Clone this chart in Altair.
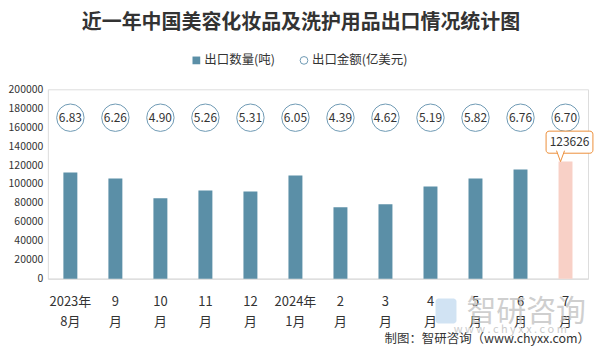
import altair as alt
import pandas as pd

months = ["2023年|8月", "9|月", "10|月", "11|月", "12|月", "2024年|1月",
          "2|月", "3|月", "4|月", "5|月", "6|月", "7|月"]
quantity = [112000, 105800, 84800, 93200, 92100, 108900,
            75400, 78500, 97400, 105800, 115200, 123626]
amount = [6.83, 6.26, 4.90, 5.26, 5.31, 6.05, 4.39, 4.62, 5.19, 5.82, 6.76, 6.70]
highlight = [False] * 11 + [True]

title_text = "近一年中国美容化妆品及洗护用品出口情况统计图"
legend_labels = ["出口数量(吨)", "出口金额(亿美元)"]
footer_text = "制图：智研咨询（www.chyxx.com）"
wm_name = "智研咨询"
wm_url = "w w w . c h y x x . c o m"
y_ticks = list(range(0, 200001, 20000))

df = pd.DataFrame({"month": months, "qty": quantity, "amt": amount, "hl": highlight})

W, H = 542, 190
FONT = "Noto Sans CJK SC"
BLUE = "#5B8FA7"
PINK = "#F8D0C6"
ORANGE = "#EC8F3A"
CIRC = "#6E9AB4"
TXT = "#333333"

xscale = alt.Scale(domain=months, paddingInner=0, paddingOuter=0)
x_axis = alt.X("month:N", sort=months, scale=xscale, title=None,
               axis=alt.Axis(labelAngle=0, ticks=False, domainColor="#D9D9D9",
                             labelExpr="split(datum.label, '|')",
                             labelFontSize=13, labelColor=TXT, labelFont=FONT,
                             labelPadding=17, labelLineHeight=20, labelBaseline="top"))
yscale = alt.Scale(domain=[0, 200000])
y_axis = alt.Axis(values=y_ticks, domain=False, ticks=False, grid=False,
                  labelFontSize=10.5, labelColor=TXT, labelFont=FONT,
                  labelPadding=5, format="d", labelOverlap=False, labelBound=False)


def y_at(v):
    return alt.Y(datum=v, type="quantitative", scale=yscale, title=None, axis=y_axis)


y_qty = alt.Y("qty:Q", scale=yscale, title=None, axis=y_axis)

base = alt.Chart(df)

bars = base.mark_bar(size=14).encode(
    x=x_axis, y=y_qty,
    color=alt.condition("datum.hl", alt.value(PINK), alt.value(BLUE)),
)

circles = base.mark_point(shape="circle", size=755, filled=True, fill="white",
                          stroke=CIRC, strokeWidth=1, opacity=1).encode(
    x=x_axis, y=y_at(170000))

amt_text = base.mark_text(fontSize=12, color=TXT, font=FONT).encode(
    x=x_axis, y=y_at(170000), text=alt.Text("amt:Q", format=".2f"))

hl = base.transform_filter("datum.hl")
box = hl.mark_bar(size=47, xOffset=4, fill="white", stroke=ORANGE, strokeWidth=1,
                  cornerRadius=3).encode(
    x=x_axis, y=y_at(132500), y2=alt.datum(155800))
cover = hl.mark_point(shape="M-0.8,-1.25L0,1L0.8,-1.25Z", size=121, filled=True,
                      fill="white", strokeWidth=0, opacity=1, xOffset=-5, yOffset=-5.5).encode(
    x=x_axis, y=y_qty)
vshape = hl.mark_point(shape="M-0.73,-1L0,1L0.73,-1", size=121, filled=False,
                       stroke=ORANGE, strokeWidth=1, opacity=1, xOffset=-5, yOffset=-5.5).encode(
    x=x_axis, y=y_qty)
box_text = hl.mark_text(fontSize=12, color=TXT, font=FONT, xOffset=4).encode(
    x=x_axis, y=y_at(144200), text=alt.Text("qty:Q", format="d"))

one = alt.Chart(pd.DataFrame({"k": [0]}))
title = one.mark_text(fontSize=20, fontWeight="bold", color=TXT, font=FONT).encode(
    x=alt.value(254), y=alt.value(-67), text=alt.value(title_text))
leg_sq = one.mark_point(shape="square", size=60, filled=True, color=BLUE, opacity=1).encode(
    x=alt.value(149), y=alt.value(-29))
leg_t1 = one.mark_text(fontSize=12.5, color=TXT, font=FONT, align="left").encode(
    x=alt.value(157), y=alt.value(-29), text=alt.value(legend_labels[0]))
leg_ci = one.mark_point(shape="circle", size=60, filled=False, color=CIRC, strokeWidth=1,
                        opacity=1).encode(x=alt.value(257), y=alt.value(-29))
leg_t2 = one.mark_text(fontSize=12.5, color=TXT, font=FONT, align="left").encode(
    x=alt.value(265), y=alt.value(-29), text=alt.value(legend_labels[1]))

logo = one.mark_rect(fill="#BDD7EE", opacity=0.7, cornerRadius=3).encode(
    x=alt.value(389), x2=alt.value(410), y=alt.value(210), y2=alt.value(235))
wm1 = one.mark_text(fontSize=30, color="#BFBFBF", opacity=0.75, font=FONT).encode(
    x=alt.value(480), y=alt.value(223), text=alt.value(wm_name))
wm2 = one.mark_text(fontSize=11, color="#BFBFBF", opacity=0.8, font=FONT).encode(
    x=alt.value(464), y=alt.value(242), text=alt.value(wm_url))
footer = one.mark_text(fontSize=12.5, color=TXT, font=FONT, align="right").encode(
    x=alt.value(544), y=alt.value(251), text=alt.value(footer_text))

chart = alt.layer(
    logo, wm1, wm2, bars, circles, amt_text, box, cover, vshape, box_text,
    title, leg_sq, leg_t1, leg_ci, leg_t2, footer
).properties(
    width=W, height=H,
    autosize=alt.AutoSizeParams(type="none"),
    padding={"left": 40, "top": 81, "right": 6, "bottom": 68},
).configure_view(stroke=None).configure_axisY(labelOverlap=False).configure(background="white")

chart.save("out.html", embed_options={"renderer": "svg", "actions": False})
